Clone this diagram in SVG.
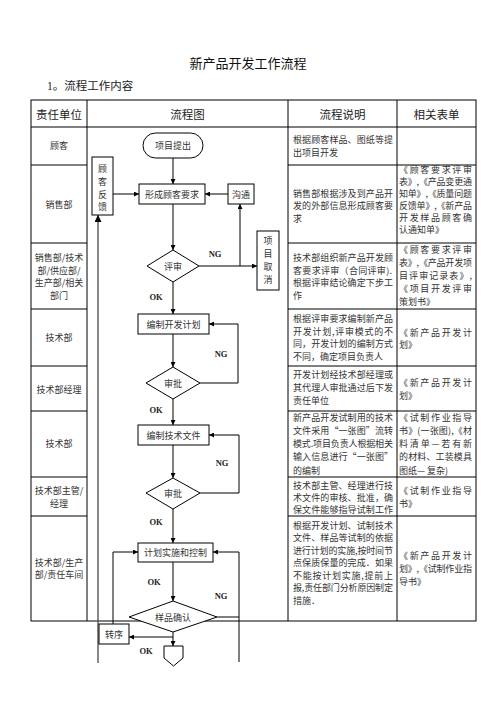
<svg xmlns="http://www.w3.org/2000/svg" width="496" height="702" viewBox="0 0 496 702">
<style>
.t{font-family:"Noto Sans CJK SC","Liberation Sans",sans-serif;fill:#333;dominant-baseline:central}
.b{font-size:9px}
.c{text-anchor:middle}
.h{font-size:11.5px;fill:#222}
.lbl{font-family:"Liberation Serif",serif;font-weight:bold;font-size:8.5px;fill:#222;text-anchor:middle;dominant-baseline:central}
.grid{stroke:#000;stroke-width:1;fill:none}
.shape{fill:#fff;stroke:#000;stroke-width:1}
.ln{fill:none;stroke:#000;stroke-width:1}
</style>
<defs>
<marker id="arr" viewBox="0 0 10 10" refX="10" refY="5" markerWidth="5" markerHeight="5" orient="auto"><path d="M0,0 L10,5 L0,10 z" fill="#000"/></marker>
</defs>
<rect width="496" height="702" fill="#fff"/>
<text class="t c" x="248" y="62" style="font-size:13px;fill:#111">新产品开发工作流程</text>
<text class="t" x="47" y="86" style="font-size:11.5px;fill:#222;font-family:'Liberation Serif','Noto Sans CJK SC',serif">1。流程工作内容</text>

<g id="table">
<rect class="grid" x="31" y="100" width="445" height="521"/>
<path class="grid" d="M31,127 H476 M87,100 V621 M288,100 V621 M397,100 V621"/>
<path class="grid" d="M31,165 H87 M31,243 H87 M31,309 H87 M31,366 H87 M31,411 H87 M31,477 H87 M31,516 H87"/>
<path class="grid" d="M288,165 H476 M288,243 H476 M288,309 H476 M288,366 H476 M288,411 H476 M288,477 H476 M288,516 H476"/>
<text class="t h c" x="59" y="114">责任单位</text>
<text class="t h c" x="187.5" y="114">流程图</text>
<text class="t h c" x="342.5" y="114">流程说明</text>
<text class="t h c" x="436.5" y="114">相关表单</text>
</g>

<g id="col-units">
<text class="t b c" x="59" y="145">顾客</text>
<text class="t b c" x="59" y="204">销售部</text>
<text class="t b c" x="59" y="257">销售部/技术</text>
<text class="t b c" x="59" y="270">部/供应部/</text>
<text class="t b c" x="59" y="282.5">生产部/相关</text>
<text class="t b c" x="59" y="295">部门</text>
<text class="t b c" x="59" y="337">技术部</text>
<text class="t b c" x="59" y="389">技术部经理</text>
<text class="t b c" x="59" y="443">技术部</text>
<text class="t b c" x="59" y="490">技术部主管/</text>
<text class="t b c" x="59" y="503">经理</text>
<text class="t b c" x="59" y="562">技术部/生产</text>
<text class="t b c" x="59" y="574">部/责任车间</text>
</g>

<g id="col-desc">
<text class="t b" x="293" y="139" textLength="100" lengthAdjust="spacing">根据顾客样品、图纸等提</text>
<text class="t b" x="293" y="152">出项目开发</text>
<text class="t b" x="293" y="193" textLength="100" lengthAdjust="spacing">销售部根据涉及到产品开</text>
<text class="t b" x="293" y="205.5" textLength="100" lengthAdjust="spacing">发的外部信息形成顾客要</text>
<text class="t b" x="293" y="218">求</text>
<text class="t b" x="293" y="257" textLength="100" lengthAdjust="spacing">技术部组织新产品开发顾</text>
<text class="t b" x="293" y="270" textLength="99" lengthAdjust="spacing">客要求评审（合同评审).</text>
<text class="t b" x="293" y="282.5" textLength="100" lengthAdjust="spacing">根据评审结论确定下步工</text>
<text class="t b" x="293" y="295">作</text>
<text class="t b" x="293" y="318" textLength="100" lengthAdjust="spacing">根据评审要求编制新产品</text>
<text class="t b" x="293" y="331" textLength="100" lengthAdjust="spacing">开发计划,评审模式的不</text>
<text class="t b" x="293" y="343.5" textLength="100" lengthAdjust="spacing">同，开发计划的编制方式</text>
<text class="t b" x="293" y="356">不同，确定项目负责人</text>
<text class="t b" x="293" y="374" textLength="100" lengthAdjust="spacing">开发计划经技术部经理或</text>
<text class="t b" x="293" y="387" textLength="100" lengthAdjust="spacing">其代理人审批通过后下发</text>
<text class="t b" x="293" y="400">责任单位</text>
<text class="t b" x="293" y="417" textLength="100" lengthAdjust="spacing">新产品开发试制用的技术</text>
<text class="t b" x="293" y="430" textLength="100" lengthAdjust="spacing">文件采用“一张图”流转</text>
<text class="t b" x="293" y="443.5" textLength="100" lengthAdjust="spacing">模式.项目负责人根据相关</text>
<text class="t b" x="293" y="456.5" textLength="100" lengthAdjust="spacing">输入信息进行“一张图”</text>
<text class="t b" x="293" y="470">的编制</text>
<text class="t b" x="293" y="485" textLength="100" lengthAdjust="spacing">技术部主管、经理进行技</text>
<text class="t b" x="293" y="497" textLength="100" lengthAdjust="spacing">术文件的审核、批准，确</text>
<text class="t b" x="293" y="509" textLength="100" lengthAdjust="spacing">保文件能够指导试制工作</text>
<text class="t b" x="293" y="525" textLength="100" lengthAdjust="spacing">根据开发计划、试制技术</text>
<text class="t b" x="293" y="537.5" textLength="100" lengthAdjust="spacing">文件、样品等试制的依据</text>
<text class="t b" x="293" y="550" textLength="100" lengthAdjust="spacing">进行计划的实施,按时间节</text>
<text class="t b" x="293" y="562.5" textLength="100" lengthAdjust="spacing">点保质保量的完成．如果</text>
<text class="t b" x="293" y="575" textLength="100" lengthAdjust="spacing">不能按计划实施,提前上</text>
<text class="t b" x="293" y="587.5" textLength="100" lengthAdjust="spacing">报,责任部门分析原因制定</text>
<text class="t b" x="293" y="600.5">措施．</text>
</g>

<g id="col-forms">
<text class="t b" x="399" y="169" textLength="73" lengthAdjust="spacing">《顾客要求评审</text>
<text class="t b" x="399" y="181" textLength="73" lengthAdjust="spacing">表》,《产品变更通</text>
<text class="t b" x="399" y="193" textLength="73" lengthAdjust="spacing">知单》,《质量问题</text>
<text class="t b" x="399" y="205" textLength="73" lengthAdjust="spacing">反馈单》,《新产品</text>
<text class="t b" x="399" y="217" textLength="73" lengthAdjust="spacing">开发样品顾客确</text>
<text class="t b" x="399" y="229">认通知单》</text>
<text class="t b" x="399" y="249" textLength="73" lengthAdjust="spacing">《顾客要求评审</text>
<text class="t b" x="399" y="262" textLength="73" lengthAdjust="spacing">表》,《产品开发项</text>
<text class="t b" x="399" y="275" textLength="73" lengthAdjust="spacing">目评审记录表》,</text>
<text class="t b" x="399" y="288" textLength="73" lengthAdjust="spacing">《项目开发评审</text>
<text class="t b" x="399" y="301">策划书》</text>
<text class="t b" x="399" y="332" textLength="73" lengthAdjust="spacing">《新产品开发计</text>
<text class="t b" x="399" y="344.5">划》</text>
<text class="t b" x="399" y="382" textLength="73" lengthAdjust="spacing">《新产品开发计</text>
<text class="t b" x="399" y="395">划》</text>
<text class="t b" x="399" y="417" textLength="73" lengthAdjust="spacing">《试制作业指导</text>
<text class="t b" x="399" y="430" textLength="73" lengthAdjust="spacing">书》(一张图),《材</text>
<text class="t b" x="399" y="443.5" textLength="73" lengthAdjust="spacing">料清单—若有新</text>
<text class="t b" x="399" y="456.5" textLength="73" lengthAdjust="spacing">的材料、工装模具</text>
<text class="t b" x="399" y="470">图纸— 复杂)</text>
<text class="t b" x="399" y="490" textLength="73" lengthAdjust="spacing">《试制作业指导</text>
<text class="t b" x="399" y="503">书》</text>
<text class="t b" x="399" y="555" textLength="73" lengthAdjust="spacing">《新产品开发计</text>
<text class="t b" x="399" y="568" textLength="73" lengthAdjust="spacing">划》,《试制作业指</text>
<text class="t b" x="399" y="581">导书》</text>
</g>

<g id="connectors">
<path d="M98,663 V215" fill="none" stroke="#555" stroke-width="1.4" marker-end="url(#arr)"/>
<path class="ln" d="M173,158 V184" marker-end="url(#arr)"/>
<path class="ln" d="M113,194 H139" marker-end="url(#arr)"/>
<path class="ln" d="M228,194 H205" marker-end="url(#arr)"/>
<path class="ln" d="M173,204 V250" marker-end="url(#arr)"/>
<path class="ln" d="M199,266 H257" marker-end="url(#arr)"/>
<path class="ln" d="M240,266 V204" marker-end="url(#arr)"/>
<path class="ln" d="M173,282 V314" marker-end="url(#arr)"/>
<path class="ln" d="M173,334 V367" marker-end="url(#arr)"/>
<path class="ln" d="M200,383 H238 V324 H209" marker-end="url(#arr)"/>
<path class="ln" d="M173,399 V425" marker-end="url(#arr)"/>
<path class="ln" d="M173,445 V478" marker-end="url(#arr)"/>
<path class="ln" d="M200,493 H239 V435 H209" marker-end="url(#arr)"/>
<path class="ln" d="M173,509 V543" marker-end="url(#arr)"/>
<path class="ln" d="M173,562 V601" marker-end="url(#arr)"/>
<path class="ln" d="M217,617 H239"/>
<path class="ln" d="M239,662 V552 H213" marker-end="url(#arr)"/>
<path class="ln" d="M173,632 V646" marker-end="url(#arr)"/>
<path class="ln" d="M173,637 H129" marker-end="url(#arr)"/>
<path class="ln" d="M113,624 V552 H138" marker-end="url(#arr)"/>
<text class="lbl" x="215" y="254">NG</text>
<text class="lbl" x="156" y="297">OK</text>
<text class="lbl" x="221" y="354">NG</text>
<text class="lbl" x="156" y="410">OK</text>
<text class="lbl" x="222" y="463">NG</text>
<text class="lbl" x="156" y="522">OK</text>
<text class="lbl" x="154" y="582">OK</text>
<text class="lbl" x="221" y="596">NG</text>
<text class="lbl" x="146" y="651">OK</text>
</g>

<g id="n-start"><rect class="shape" x="143" y="133" width="60" height="25" rx="12.5"/><text class="t b c" x="173" y="145.5">项目提出</text></g>
<g id="n-feedback"><rect class="shape" x="92" y="157" width="21" height="58"/>
<text class="t b c" x="102.5" y="168">顾</text><text class="t b c" x="102.5" y="181">客</text><text class="t b c" x="102.5" y="194">反</text><text class="t b c" x="102.5" y="206">馈</text></g>
<g id="n-req"><rect class="shape" x="139" y="184" width="66" height="20"/><text class="t b c" x="172" y="194">形成顾客要求</text></g>
<g id="n-comm"><rect class="shape" x="228" y="184" width="26" height="20"/><text class="t b c" x="241" y="194">沟通</text></g>
<g id="n-cancel"><rect class="shape" x="257" y="231" width="22" height="59"/>
<text class="t b c" x="268" y="240.5">项</text><text class="t b c" x="268" y="253.5">目</text><text class="t b c" x="268" y="266.5">取</text><text class="t b c" x="268" y="279.5">消</text></g>
<g id="n-review"><polygon class="shape" points="173,250 199,266 173,282 147,266"/><text class="t b c" x="173" y="266">评审</text></g>
<g id="n-plan"><rect class="shape" x="138" y="314" width="71" height="20"/><text class="t b c" x="173.5" y="324">编制开发计划</text></g>
<g id="n-approve1"><polygon class="shape" points="173,367 200,383 173,399 146,383"/><text class="t b c" x="173" y="383">审批</text></g>
<g id="n-techdoc"><rect class="shape" x="138" y="425" width="71" height="20"/><text class="t b c" x="173.5" y="435">编制技术文件</text></g>
<g id="n-approve2"><polygon class="shape" points="173,478 200,493 173,509 146,493"/><text class="t b c" x="173" y="493">审批</text></g>
<g id="n-exec"><rect class="shape" x="138" y="543" width="75" height="19"/><text class="t b c" x="175.5" y="552.5">计划实施和控制</text></g>
<g id="n-sample"><polygon class="shape" points="173,601 217,617 173,632 129,617"/><text class="t b c" x="173" y="617">样品确认</text></g>
<g id="n-transfer"><rect class="shape" x="99" y="624" width="30" height="20"/><text class="t b c" x="114" y="634">转序</text></g>
<g id="n-offpage"><polygon class="shape" points="164,646 183,646 183,658 173.5,666 164,658"/></g>
</svg>
